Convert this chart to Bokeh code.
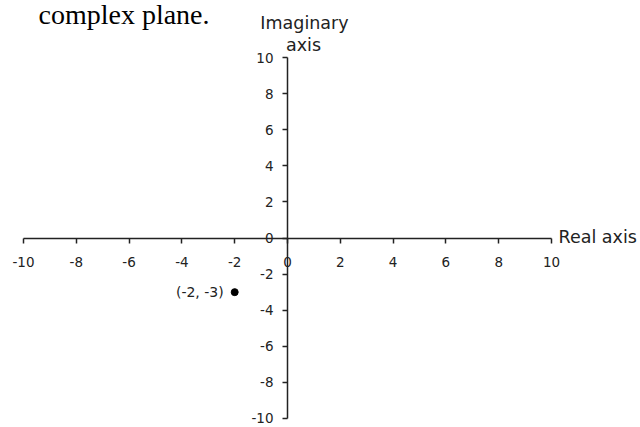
from bokeh.plotting import figure
from bokeh.models import LinearAxis, FixedTicker, Range1d, Label, ColumnDataSource
from bokeh.embed import file_html
from bokeh.resources import INLINE

# Tick values shared by both axes
tick_values = [-10, -8, -6, -4, -2, 0, 2, 4, 6, 8, 10]

# The plotted complex number z = -2 - 3i
point_re = [-2]
point_im = [-3]
point_text = ["(-2, -3)"]

caption = "complex plane."
real_title = "Real axis"
imag_title_top = "Imaginary"
imag_title_bottom = "axis"

TICK_FONT = "DejaVu Sans"

p = figure(
    width=640, height=427,
    x_range=Range1d(-10.87, 13.37),
    y_range=Range1d(-10.50, 13.16),
    output_backend="svg", toolbar_location=None,
    x_axis_type=None, y_axis_type=None,
    min_border=0, min_border_left=0, min_border_right=0,
    min_border_top=0, min_border_bottom=0,
)
p.outline_line_color = None
p.background_fill_color = "white"
p.border_fill_color = "white"
p.xgrid.visible = False
p.ygrid.visible = False

# Plain hyphen-minus tick labels
tick_labels = {v: str(v) for v in tick_values}


def style_axis(ax):
    ax.ticker = FixedTicker(ticks=tick_values)
    ax.major_label_overrides = tick_labels
    ax.bounds = (-10, 10)
    ax.axis_line_color = "#222222"
    ax.axis_line_width = 1.5
    ax.major_tick_line_color = "#222222"
    ax.major_tick_line_width = 1.5
    ax.major_tick_in = 0
    ax.major_tick_out = 5
    ax.minor_tick_line_color = None
    ax.major_label_text_font = TICK_FONT
    ax.major_label_text_font_size = "13.5px"
    ax.major_label_text_color = "#222222"


# Real axis crossing at Im = 0
x_axis = LinearAxis(fixed_location=0)
style_axis(x_axis)
x_axis.major_label_standoff = 14
p.add_layout(x_axis, "below")

# Imaginary axis crossing at Re = 0
y_axis = LinearAxis(fixed_location=0)
style_axis(y_axis)
y_axis.major_label_standoff = 9
p.add_layout(y_axis, "left")

# The point and its coordinate label
src = ColumnDataSource(dict(x=point_re, y=point_im, label=point_text))
p.scatter("x", "y", source=src, size=7, color="black")
p.text("x", "y", text="label", source=src, x_offset=-11,
       text_align="right", text_baseline="middle",
       text_font_size="14px", text_color="#222222",
       text_font={"value": TICK_FONT})

# Axis titles
p.add_layout(Label(x=10, y=0, x_offset=7, y_offset=1.5, text=real_title,
                   text_font=TICK_FONT, text_font_size="17.5px",
                   text_color="#222222", text_baseline="alphabetic"))
p.add_layout(Label(x=0, y=10, x_offset=17, y_offset=35, text=imag_title_top,
                   text_font=TICK_FONT, text_font_size="17.5px",
                   text_color="#222222", text_align="center",
                   text_baseline="alphabetic"))
p.add_layout(Label(x=0, y=10, x_offset=16, y_offset=13, text=imag_title_bottom,
                   text_font=TICK_FONT, text_font_size="17.5px",
                   text_color="#222222", text_align="center",
                   text_baseline="alphabetic"))

# Caption line above the chart
p.add_layout(Label(x=38, y=413, x_units="screen", y_units="screen",
                   text=caption, text_font="Liberation Serif",
                   text_font_size="28px", text_color="black",
                   text_baseline="alphabetic"))

open("out.html", "w").write(file_html(p, INLINE))
